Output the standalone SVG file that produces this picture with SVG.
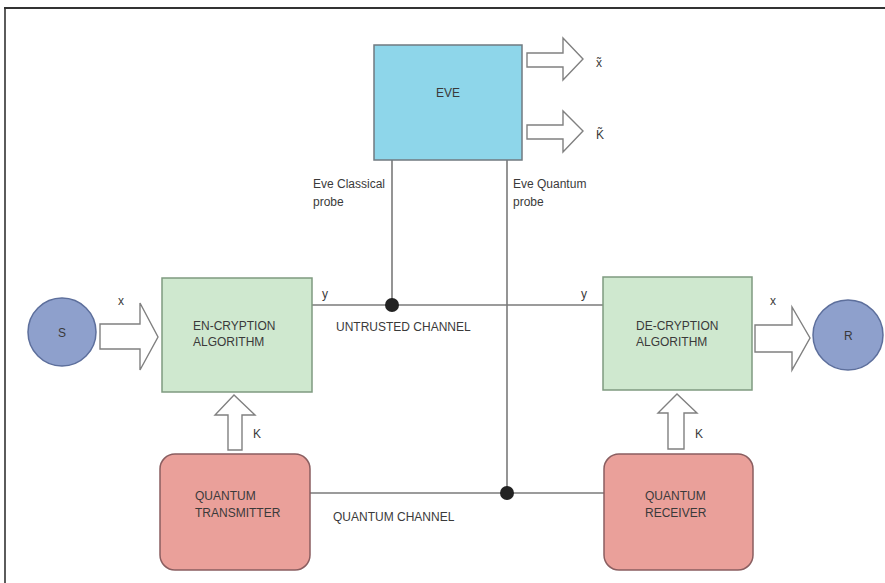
<svg xmlns="http://www.w3.org/2000/svg" width="885" height="583" viewBox="0 0 885 583">
<style>
text{font-family:"Liberation Sans","Open Sans",sans-serif;font-size:12px;fill:#3a3a3a}
.ln{stroke:#7a7a7a;stroke-width:1.6;fill:none}
.arr{fill:#fff;stroke:#808080;stroke-width:1.4;stroke-linejoin:miter}
.dot{fill:#222}
.green{fill:#cfe8cf;stroke:#7f9a80;stroke-width:1.5}
.red{fill:#eaa09a;stroke:#8a5e60;stroke-width:1.5}
.blue{fill:#8ea0cc;stroke:#5d6f9c;stroke-width:1.5}
.eve{fill:#8ed6ea;stroke:#707a80;stroke-width:1.5}
</style>
<rect width="885" height="583" fill="#fff"/>
<line x1="4" y1="8" x2="885" y2="8" stroke="#333" stroke-width="2"/>
<line x1="5" y1="8" x2="5" y2="583" stroke="#333" stroke-width="1.6"/>

<g id="connectors">
<line class="ln" x1="392" y1="160" x2="392" y2="305"/>
<line class="ln" x1="507" y1="160" x2="507" y2="493"/>
<line class="ln" x1="312" y1="305" x2="603" y2="305"/>
<line class="ln" x1="310" y1="493" x2="604" y2="493"/>
<circle class="dot" cx="392" cy="305" r="7"/>
<circle class="dot" cx="507" cy="493" r="7"/>
<polygon class="arr" points="100,324 140,324 140,303 158,337 140,370 140,349 100,349"/>
<polygon class="arr" points="755,325 792,325 792,307 810,338 792,370 792,352 755,352"/>
<polygon class="arr" points="527,53 563,53 563,38 583,59 563,80 563,67 527,67"/>
<polygon class="arr" points="527,125 563,125 563,111 583,131 563,152 563,139 527,139"/>
<polygon class="arr" points="228,450 228,415 215,415 234,395 255,415 242,415 242,450"/>
<polygon class="arr" points="668,449 668,413 658,413 677,394 697,413 684,413 684,449"/>
<text x="118" y="305">x</text>
<text x="770" y="305">x</text>
<text x="322" y="298">y</text>
<text x="581" y="298">y</text>
<text x="336" y="331">UNTRUSTED CHANNEL</text>
<text x="333" y="521">QUANTUM CHANNEL</text>
<text x="253" y="438">K</text>
<text x="695" y="438">K</text>
<text x="596" y="67">x&#771;</text>
<text x="596" y="139">K&#771;</text>
<text x="313" y="188">Eve Classical</text>
<text x="313" y="206">probe</text>
<text x="513" y="188">Eve Quantum</text>
<text x="513" y="206">probe</text>
</g>

<g id="eve">
<rect class="eve" x="374" y="45" width="148" height="115"/>
<text x="436" y="97">EVE</text>
</g>
<g id="s">
<circle class="blue" cx="62" cy="332" r="34"/>
<text x="58" y="337">S</text>
</g>
<g id="r">
<circle class="blue" cx="848" cy="335" r="35"/>
<text x="844" y="340">R</text>
</g>
<g id="encryption">
<rect class="green" x="162" y="278" width="150" height="114"/>
<text x="193" y="330">EN-CRYPTION</text>
<text x="193" y="346">ALGORITHM</text>
</g>
<g id="decryption">
<rect class="green" x="603" y="277" width="149" height="113"/>
<text x="636" y="330">DE-CRYPTION</text>
<text x="636" y="346">ALGORITHM</text>
</g>
<g id="transmitter">
<rect class="red" x="160" y="454" width="150" height="116" rx="15"/>
<text x="195" y="500">QUANTUM</text>
<text x="195" y="517">TRANSMITTER</text>
</g>
<g id="receiver">
<rect class="red" x="604" y="454" width="149" height="116" rx="15"/>
<text x="645" y="500">QUANTUM</text>
<text x="645" y="517">RECEIVER</text>
</g>
</svg>
